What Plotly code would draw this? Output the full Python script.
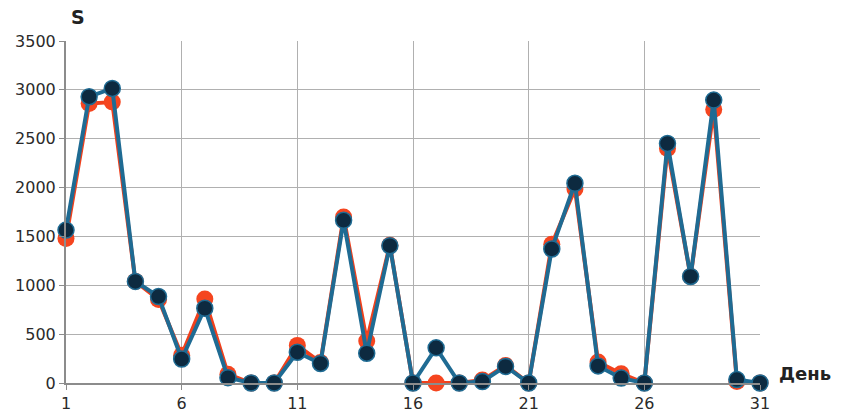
import plotly.graph_objects as go

days = list(range(1, 32))
series_red = [1480, 2860, 2875, 1040, 855, 285, 860, 90, 0, 0, 385, 210, 1700, 430, 1410,
              0, 0, 0, 30, 180, 0, 1420, 1985, 215, 95, 0, 2400, 1090, 2800, 15, 0]
series_blue = [1565, 2930, 3015, 1040, 885, 245, 765, 55, 0, 0, 315, 200, 1665, 305, 1405,
               0, 360, 0, 15, 170, 0, 1372, 2044, 175, 50, 0, 2452, 1090, 2895, 35, 0]
y_ticks = [0, 500, 1000, 1500, 2000, 2500, 3000, 3500]
x_ticks = [1, 6, 11, 16, 21, 26, 31]

fig = go.Figure()
fig.add_trace(go.Scatter(
    x=days, y=series_red, mode="lines+markers",
    line=dict(color="#f0401c", width=4),
    marker=dict(color="#f5451f", size=17),
    cliponaxis=False, showlegend=False))
fig.add_trace(go.Scatter(
    x=days, y=series_blue, mode="lines+markers",
    line=dict(color="#1f6b93", width=4),
    marker=dict(color="#0d2a40", size=16, line=dict(color="#1f6b93", width=1.5)),
    cliponaxis=False, showlegend=False))

tick_font = dict(family="DejaVu Sans, sans-serif", size=16, color="#2a2a2a")
fig.update_layout(
    width=841, height=418,
    margin=dict(l=66, r=81, t=41, b=35),
    plot_bgcolor="white", paper_bgcolor="white",
    font=dict(family="DejaVu Sans, sans-serif", size=16, color="#222222"),
    xaxis=dict(range=[1, 31], tickvals=x_ticks, showgrid=True, gridcolor="#b0b0b0", gridwidth=1,
               showline=True, linecolor="#8c8c8c", linewidth=2, ticks="outside", ticklen=5,
               tickcolor="#8c8c8c", zeroline=False, tickfont=tick_font, automargin=False),
    yaxis=dict(range=[0, 3500], tickvals=y_ticks, showgrid=True, gridcolor="#b0b0b0", gridwidth=1,
               showline=True, linecolor="#8c8c8c", linewidth=2, ticks="outside", ticklen=5,
               tickcolor="#8c8c8c", zeroline=False, tickfont=tick_font, automargin=False),
    annotations=[
        dict(text="<b>S</b>", xref="paper", yref="paper", x=0.0173, y=1.0, yshift=24,
             xanchor="center", yanchor="middle", showarrow=False,
             font=dict(family="DejaVu Sans, sans-serif", size=19, color="#222222")),
        dict(text="<b>День</b>", xref="paper", yref="paper", x=1.0, y=0, xshift=17, yshift=10,
             xanchor="left", yanchor="middle", showarrow=False,
             font=dict(family="DejaVu Sans, sans-serif", size=18, color="#222222")),
    ],
)

fig.write_html("out.html", config={"displayModeBar": False},
               post_script="document.body.style.margin='0';document.body.style.overflow='hidden';")
